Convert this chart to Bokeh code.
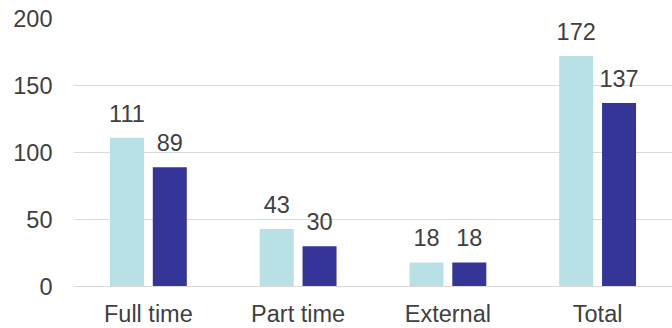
from bokeh.plotting import figure
from bokeh.models import FactorRange, Range1d, FixedTicker, ColumnDataSource
from bokeh.transform import dodge
from bokeh.core.properties import value
from bokeh.embed import file_html
from bokeh.resources import INLINE

categories = ["Full time", "Part time", "External", "Total"]
series_a = [111, 43, 18, 172]
series_b = [89, 30, 18, 137]
y_ticks = [0, 50, 100, 150, 200]

LIGHT = "#b9e0e4"
DARK = "#353598"
TEXT = "#404040"
GRID = "#d9d9d9"
FONT = "Liberation Sans"
FS = "23.5px"

src = ColumnDataSource(dict(
    cat=categories, a=series_a, b=series_b,
    la=[str(v) for v in series_a], lb=[str(v) for v in series_b],
))

p = figure(frame_width=599, frame_height=268, output_backend="svg", toolbar_location=None,
           x_range=FactorRange(*categories, range_padding=0),
           y_range=Range1d(0, 200),
           min_border_left=73, min_border_right=0, min_border_top=18, min_border_bottom=0)
p.outline_line_color = None
p.background_fill_color = "white"
p.border_fill_color = "white"

off = 0.143
bw = 0.227
p.vbar(x=dodge("cat", -off, range=p.x_range), top="a", width=bw, source=src,
       fill_color=LIGHT, line_color=None)
p.vbar(x=dodge("cat", off, range=p.x_range), top="b", width=bw, source=src,
       fill_color=DARK, line_color=None)

for col, lab, d in (("a", "la", -off), ("b", "lb", off)):
    p.text(x=dodge("cat", d, range=p.x_range), y=col, text=lab, source=src,
           text_align="center", text_baseline="bottom", y_offset=-16,
           text_font_size=FS, text_color=TEXT, text_font=value(FONT))

p.xgrid.grid_line_color = None
p.ygrid.grid_line_color = GRID
p.ygrid.grid_line_width = 1
p.yaxis.ticker = FixedTicker(ticks=y_ticks)
p.yaxis.axis_line_color = None
p.yaxis.major_tick_line_color = None
p.yaxis.minor_tick_line_color = None
p.yaxis.major_tick_out = 0
p.yaxis.major_tick_in = 0
p.yaxis.major_label_standoff = 21
p.yaxis.major_label_text_font = FONT
p.yaxis.major_label_text_font_size = FS
p.yaxis.major_label_text_color = TEXT

p.xaxis.axis_line_color = GRID
p.xaxis.major_tick_line_color = None
p.xaxis.minor_tick_line_color = None
p.xaxis.major_tick_out = 0
p.xaxis.major_tick_in = 0
p.xaxis.major_label_standoff = 14
p.xaxis.major_label_text_font = FONT
p.xaxis.major_label_text_font_size = FS
p.xaxis.major_label_text_color = TEXT

open("out.html", "w").write(file_html(p, INLINE))
